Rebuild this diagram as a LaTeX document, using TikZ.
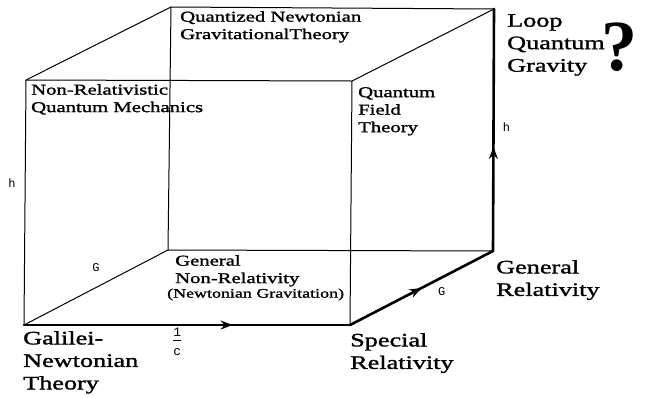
\documentclass[tikz,border=0pt]{standalone}
\usepackage{fontspec}
\setmainfont{Liberation Serif}[FakeStretch=1.38,FakeBold=1.5]
\setmonofont{Liberation Mono}
\newfontfamily\markfont{Liberation Serif}
\usetikzlibrary{arrows.meta,decorations.markings}

\begin{document}
\begin{tikzpicture}[x=1pt,y=-1pt,
  thinedge/.style={line width=1pt},
  route/.style={line width=2.6pt, line cap=round, postaction={decorate},
    decoration={markings, mark=at position #1 with {\arrow{Stealth[length=12pt,width=9pt]}}}},
  theory/.style={inner sep=0pt, anchor=north west, align=left, font=\fontsize{19}{22.5}\selectfont},
  inner/.style={inner sep=0pt, anchor=north west, align=left, font=\fontsize{15}{17.5}\selectfont},
  param/.style={inner sep=0pt, font=\fontsize{12}{12}\selectfont\ttfamily}]
\useasboundingbox (0,0) rectangle (647,397);
% corners of the cube
\coordinate (gal) at (24,325);
\coordinate (sr) at (350,325);
\coordinate (gr) at (493,251);
\coordinate (gnr) at (168,250);
\coordinate (nrqm) at (26,80);
\coordinate (qft) at (352,81);
\coordinate (qng) at (171,7);
\coordinate (lqg) at (494,9);
% thin edges
\draw[thinedge] (gal) -- node[pos=0.58, left=9pt, param] (hleft) {h} (nrqm);
\draw[thinedge] (nrqm) -- (qft) -- (sr);
\draw[thinedge] (gal) -- node[pos=0.5, above=15pt, param] (gleft) {G} (gnr);
\draw[thinedge] (gnr) -- (gr);
\draw[thinedge] (gnr) -- (qng) -- (lqg);
\draw[thinedge] (nrqm) -- (qng);
\draw[thinedge] (qft) -- (lqg);
% the thick route
\draw[route=0.64] (gal) -- node[pos=0.47, below=2pt, param, align=center, font=\fontsize{13}{13}\selectfont\ttfamily] (cinv) {1\\[-9pt]\rule{8pt}{0.6pt}\\[2pt]c} (sr);
\draw[route=0.5] (sr) -- node[pos=0.58, below right=4pt, param] (gright) {G} (gr);
\draw[route=0.43] (gr) -- node[pos=0.51, right=8pt, param] (hright) {h} (lqg);
% theories
\node[theory] (galtxt) at ([shift={(-1,6)}]gal) {Galilei-\\Newtonian\\Theory};
\node[theory] (srtxt) at ([shift={(0,8)}]sr) {Special\\Relativity};
\node[theory] (grtxt) at ([shift={(3,9)}]gr) {General\\Relativity};
\node[theory] (lqgtxt) at ([shift={(13,5)}]lqg) {Loop\\Quantum\\Gravity};
\node[inner sep=0pt, anchor=base west, font=\markfont\bfseries\fontsize{72}{72}\selectfont] (query) at ([shift={(107,61)}]lqg) {?};
\node[inner] (nrqmtxt) at ([shift={(5,4)}]nrqm) {Non-Relativistic\\Quantum Mechanics};
\node[inner] (qngtxt) at ([shift={(9,4)}]qng) {Quantized Newtonian\\GravitationalTheory};
\node[inner] (qfttxt) at ([shift={(6,6)}]qft) {Quantum\\Field\\Theory};
\node[inner] (gnrtxt) at ([shift={(7,5)}]gnr) {General\\Non-Relativity\\[-3pt]\fontsize{13}{14}\selectfont\hspace*{-8pt}(Newtonian Gravitation)};
\end{tikzpicture}
\end{document}
